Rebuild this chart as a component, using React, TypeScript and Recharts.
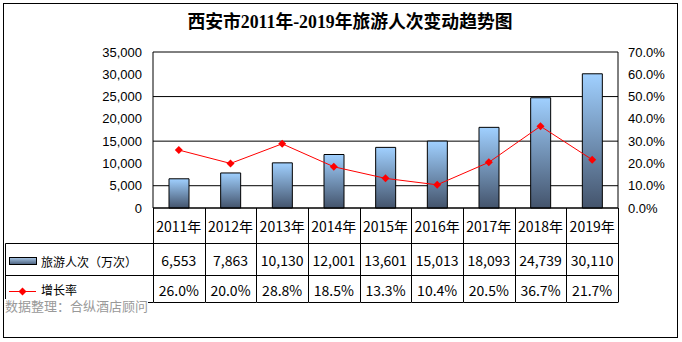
import React from "react";
import {
    ComposedChart,
    Bar,
    Line,
    XAxis,
    YAxis,
    CartesianGrid,
} from "recharts";

// data
const years = ["2011年", "2012年", "2013年", "2014年", "2015年", "2016年", "2017年", "2018年", "2019年"];
const visitors = [6553, 7863, 10130, 12001, 13601, 15013, 18093, 24739, 30110];
const growth = [26.0, 20.0, 28.8, 18.5, 13.3, 10.4, 20.5, 36.7, 21.7];
const leftTicks = [0, 5000, 10000, 15000, 20000, 25000, 30000, 35000];
const rightTicks = [0, 10, 20, 30, 40, 50, 60, 70];
const seriesNames = ["旅游人次（万次）", "增长率"];
const title = "西安市2011年-2019年旅游人次变动趋势图";
const source = "数据整理：合纵酒店顾问";

const data = years.map((year, i) => ({
    year,
    visitors: visitors[i],
    growth: growth[i],
}));

const W = 682;
const H = 342;
const PLOT = { left: 153, right: 618, top: 52, bottom: 208 };
const BAND = (PLOT.right - PLOT.left) / years.length;
const ROWS = [208, 243, 275, 302];
const TABLE_LEFT = 5;
const CJK = "'Noto Sans CJK SC', sans-serif";

const px = (v: number) => Math.round(v) + 0.5;

function TableTick(props: any) {
    const { x, index } = props;
    const l = px(x - BAND / 2);
    const r = px(x + BAND / 2);
    const textStyle = { fontFamily: CJK, fontSize: 14, fill: "#000" };
    return (
        <g>
            <line x1={l} x2={l} y1={ROWS[0]} y2={ROWS[3]} stroke="#000" />
            {index === years.length - 1 && (
                <line x1={r} x2={r} y1={ROWS[0]} y2={ROWS[3]} stroke="#000" />
            )}
            {[1, 2, 3].map((k) => (
                <line key={k} x1={l} x2={r} y1={px(ROWS[k])} y2={px(ROWS[k])} stroke="#000" />
            ))}
            <text x={x} y={226} textAnchor="middle" dominantBaseline="central" {...textStyle}>
                {years[index]}
            </text>
            <text x={x} y={260} textAnchor="middle" dominantBaseline="central" {...textStyle}>
                {visitors[index].toLocaleString("en-US")}
            </text>
            <text x={x} y={290} textAnchor="middle" dominantBaseline="central" {...textStyle}>
                {growth[index].toFixed(1) + "%"}
            </text>

            {index === 0 && (
                <g>
                    <line x1={px(TABLE_LEFT)} x2={px(TABLE_LEFT)} y1={px(ROWS[1])} y2={ROWS[3]} stroke="#000" />
                    {[1, 2, 3].map((k) => (
                        <line key={k} x1={px(TABLE_LEFT)} x2={l} y1={px(ROWS[k])} y2={px(ROWS[k])} stroke="#000" />
                    ))}
                    <rect x={9.5} y={257.5} width={27} height={7} fill="url(#legendFill)" stroke="#000" />
                    <text x={41} y={261} dominantBaseline="central" fontFamily={CJK} fontSize={12} fill="#000">
                        {seriesNames[0]}
                    </text>
                    <line x1={9} x2={36} y1={291.5} y2={291.5} stroke="#f00" />
                    <path d="M22.5,287.5L26.5,291.5L22.5,295.5L18.5,291.5Z" fill="#f00" />
                    <text x={41} y={289} dominantBaseline="central" fontFamily={CJK} fontSize={12} fill="#000">
                        {seriesNames[1]}
                    </text>
                </g>
            )}
        </g>
    );
}

function Diamond(props: any) {
    const { cx, cy, index } = props;
    return (
        <path
            key={"d" + index}
            d={`M${cx},${cy - 4}L${cx + 4},${cy}L${cx},${cy + 4}L${cx - 4},${cy}Z`}
            fill="#f00"
        />
    );
}

export default function App() {
    return (
        <div style={{ position: "absolute", left: 0, top: 0, width: W, height: H, background: "#fff" }}>
            <div
                style={{
                    position: "absolute",
                    left: 3,
                    top: 3,
                    width: 673,
                    height: 333,
                    border: "1px solid #000",
                }}
            />
            <div
                style={{
                    position: "absolute",
                    left: 0,
                    top: 12,
                    width: 700,
                    textAlign: "center",
                    fontFamily: "'Liberation Serif', 'Noto Sans CJK SC', serif",
                    fontWeight: "bold",
                    fontSize: 17.8,
                    lineHeight: "20px",
                    color: "#000",
                }}
            >
                {title}
            </div>

            <div style={{ position: "absolute", left: 0, top: 0 }}>
                <ComposedChart
                    width={W}
                    height={H}
                    data={data}
                    margin={{ top: PLOT.top, left: PLOT.left - 60, right: W - PLOT.right - 60, bottom: H - PLOT.bottom - 100 }}
                >
                    <defs>
                        <linearGradient id="barFill" x1="0" y1="0" x2="0" y2="1">
                            <stop offset="0%" stopColor="#a0d0ff" />
                            <stop offset="100%" stopColor="#44546c" />
                        </linearGradient>
                        <linearGradient id="legendFill" x1="0" y1="0" x2="0" y2="1">
                            <stop offset="0%" stopColor="#a9c8e8" />
                            <stop offset="100%" stopColor="#4a5f7c" />
                        </linearGradient>
                    </defs>

                    <CartesianGrid yAxisId="left" vertical={false} stroke="#000" />

                    <XAxis
                        dataKey="year"
                        interval={0}
                        height={100}
                        tickLine={false}
                        tickSize={0}
                        axisLine={{ stroke: "#000" }}
                        tick={<TableTick />}
                    />
                    <YAxis
                        yAxisId="left"
                        width={60}
                        domain={[0, 35000]}
                        ticks={leftTicks}
                        tickLine={false}
                        tickSize={0}
                        tickMargin={11}
                        axisLine={{ stroke: "#000" }}
                        tick={{ fill: "#000", fontSize: 13, fontFamily: "'Liberation Sans', Arial, sans-serif" }}
                        tickFormatter={(v: number) => v.toLocaleString("en-US")}
                    />
                    <YAxis
                        yAxisId="right"
                        orientation="right"
                        width={60}
                        domain={[0, 70]}
                        ticks={rightTicks}
                        tickLine={false}
                        tickSize={0}
                        tickMargin={10}
                        axisLine={{ stroke: "#000" }}
                        tick={{ fill: "#000", fontSize: 13, fontFamily: "'Liberation Sans', Arial, sans-serif" }}
                        tickFormatter={(v: number) => v.toFixed(1) + "%"}
                    />

                    <Bar
                        yAxisId="left"
                        dataKey="visitors"
                        barSize={20}
                        fill="url(#barFill)"
                        stroke="#000"
                        strokeWidth={1}
                        isAnimationActive={false}
                    />
                    <Line
                        yAxisId="right"
                        type="linear"
                        dataKey="growth"
                        stroke="#f00"
                        strokeWidth={1}
                        dot={<Diamond />}
                        activeDot={false}
                        isAnimationActive={false}
                    />
                </ComposedChart>
            </div>

            <div
                style={{
                    position: "absolute",
                    left: 5,
                    top: 299,
                    height: 13,
                    lineHeight: "13px",
                    fontFamily: CJK,
                    fontSize: 13,
                    color: "#999",
                    background: "#fff",
                    whiteSpace: "nowrap",
                }}
            >
                {source}
            </div>
        </div>
    );
}
